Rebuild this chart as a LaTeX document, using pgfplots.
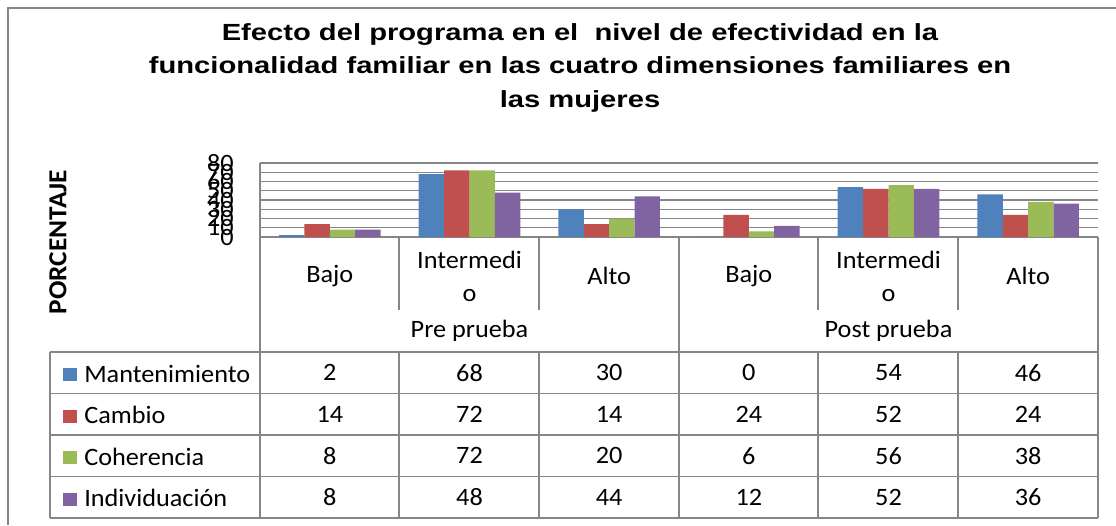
\documentclass[border=0pt]{standalone}
\usepackage{fontspec}
\setmainfont{Carlito}[FakeStretch=1.05]
\newfontfamily\titlefont{Liberation Sans}[FakeStretch=1.25]
\usepackage{pgfplots}
\usepackage{pgfplotstable}
\pgfplotsset{compat=1.18}

\definecolor{cman}{RGB}{79,129,189}
\definecolor{ccam}{RGB}{192,80,77}
\definecolor{ccoh}{RGB}{155,187,89}
\definecolor{cind}{RGB}{128,100,162}
\definecolor{gridgray}{RGB}{134,134,134}

% x = position of the category, columns = dimension
\pgfplotstableread{
x   man cam coh ind
0.5 2   14  8   8
1.5 68  72  72  48
2.5 30  14  20  44
3.5 0   24  6   12
4.5 54  52  56  52
5.5 46  24  38  36
}\data

\newcommand\tabfont{\fontsize{18.75pt}{24.75pt}\selectfont}
\newcommand\ttlfont{\titlefont\bfseries\fontsize{17.5pt}{20pt}\selectfont}

\begin{document}
\begin{tikzpicture}
% frame, title, category rows and data table, in pixels of the reference
\begin{scope}[x=0.75pt,y=-0.75pt]
\useasboundingbox (0,0) rectangle (1116,525);
\draw[gridgray, line width=1.1pt] (8,525) -- (8,8) -- (1116,8);

\node[anchor=base, font=\ttlfont] at (580,40)
  {Efecto del programa en el \ nivel de efectividad en la};
\node[anchor=base, font=\ttlfont] at (580,73.5)
  {funcionalidad familiar en las cuatro dimensiones familiares en};
\node[anchor=base, font=\ttlfont] at (580,107)
  {las mujeres};

\node[rotate=90, font=\fontsize{19.5pt}{20pt}\selectfont\bfseries] at (58,242) {PORCENTAJE};

% category rows
\begin{scope}[gridgray, line width=1.1pt]
\foreach \xx in {399,539,818,958} \draw (\xx,237) -- (\xx,310);
\foreach \xx in {260,679,1098} \draw (\xx,237) -- (\xx,352);
\foreach \yy in {352,393.5,435,476.5,518} \draw (50,\yy) -- (1098,\yy);
\foreach \xx in {50,260,399,539,679,818,958,1098} \draw (\xx,352) -- (\xx,518);
\end{scope}

\foreach \cx/\lab in {329.8/Bajo, 469.5/{Intermedi\\o}, 609.2/Alto,
                      748.8/Bajo, 888.5/{Intermedi\\o}, 1028.2/Alto}
  \node[align=center, font=\tabfont, inner sep=0pt] at (\cx,276) {\lab};
\node[font=\tabfont, inner sep=0pt] at (469.5,331) {Pre prueba};
\node[font=\tabfont, inner sep=0pt] at (888.5,331) {Post prueba};

% legend keys of the data table
\foreach \yy/\col/\lab in {372.75/cman/Mantenimiento, 414.25/ccam/Cambio,
                           455.75/ccoh/Coherencia, 497.25/cind/Individuación} {
  \fill[\col] (63,\yy-4.5) rectangle (77,\yy+8.5);
  \node[anchor=west, font=\tabfont, inner sep=0pt] at (84,\yy+1) {\lab};
}
\end{scope}

% bars
\begin{axis}[
    at={(195pt,-177.75pt)}, anchor=south west,
    scale only axis, width=628.5pt, height=55.5pt,
    xmin=0, xmax=6, ymin=0, ymax=80,
    xtick=\empty,
    ytick={0,10,...,80},
    ymajorgrids,
    grid style={draw=gridgray, line width=1.1pt},
    axis lines*=left,
    axis line style={-, draw=gridgray, line width=1.1pt},
    ytick style={draw=none},
    yticklabel style={font=\tabfont, anchor=east, inner sep=0pt, xshift=-19.5pt},
    /pgf/number format/assume math mode=true,
]
\addplot[ybar, bar width=19.05pt, bar shift=-28.575pt, fill=cman, draw=none] table[x=x, y=man] {\data};
\addplot[ybar, bar width=19.05pt, bar shift=-9.525pt, fill=ccam, draw=none] table[x=x, y=cam] {\data};
\addplot[ybar, bar width=19.05pt, bar shift=9.525pt, fill=ccoh, draw=none] table[x=x, y=coh] {\data};
\addplot[ybar, bar width=19.05pt, bar shift=28.575pt, fill=cind, draw=none] table[x=x, y=ind] {\data};
\end{axis}

% values of the data table, one row per series
\begin{axis}[
    at={(195pt,-388.5pt)}, anchor=south west,
    scale only axis, width=628.5pt, height=124.5pt,
    xmin=0, xmax=6, ymin=0, ymax=4,
    hide axis,
    valrow/.style={draw=none, mark=none, nodes near coords,
        point meta=explicit symbolic,
        every node near coord/.style={anchor=center, inner sep=0pt,
            text=black, font=\tabfont}},
]
\addplot[valrow] table[x=x, y expr=3.5, meta=man] {\data};
\addplot[valrow] table[x=x, y expr=2.5, meta=cam] {\data};
\addplot[valrow] table[x=x, y expr=1.5, meta=coh] {\data};
\addplot[valrow] table[x=x, y expr=0.5, meta=ind] {\data};
\end{axis}
\end{tikzpicture}
\end{document}
